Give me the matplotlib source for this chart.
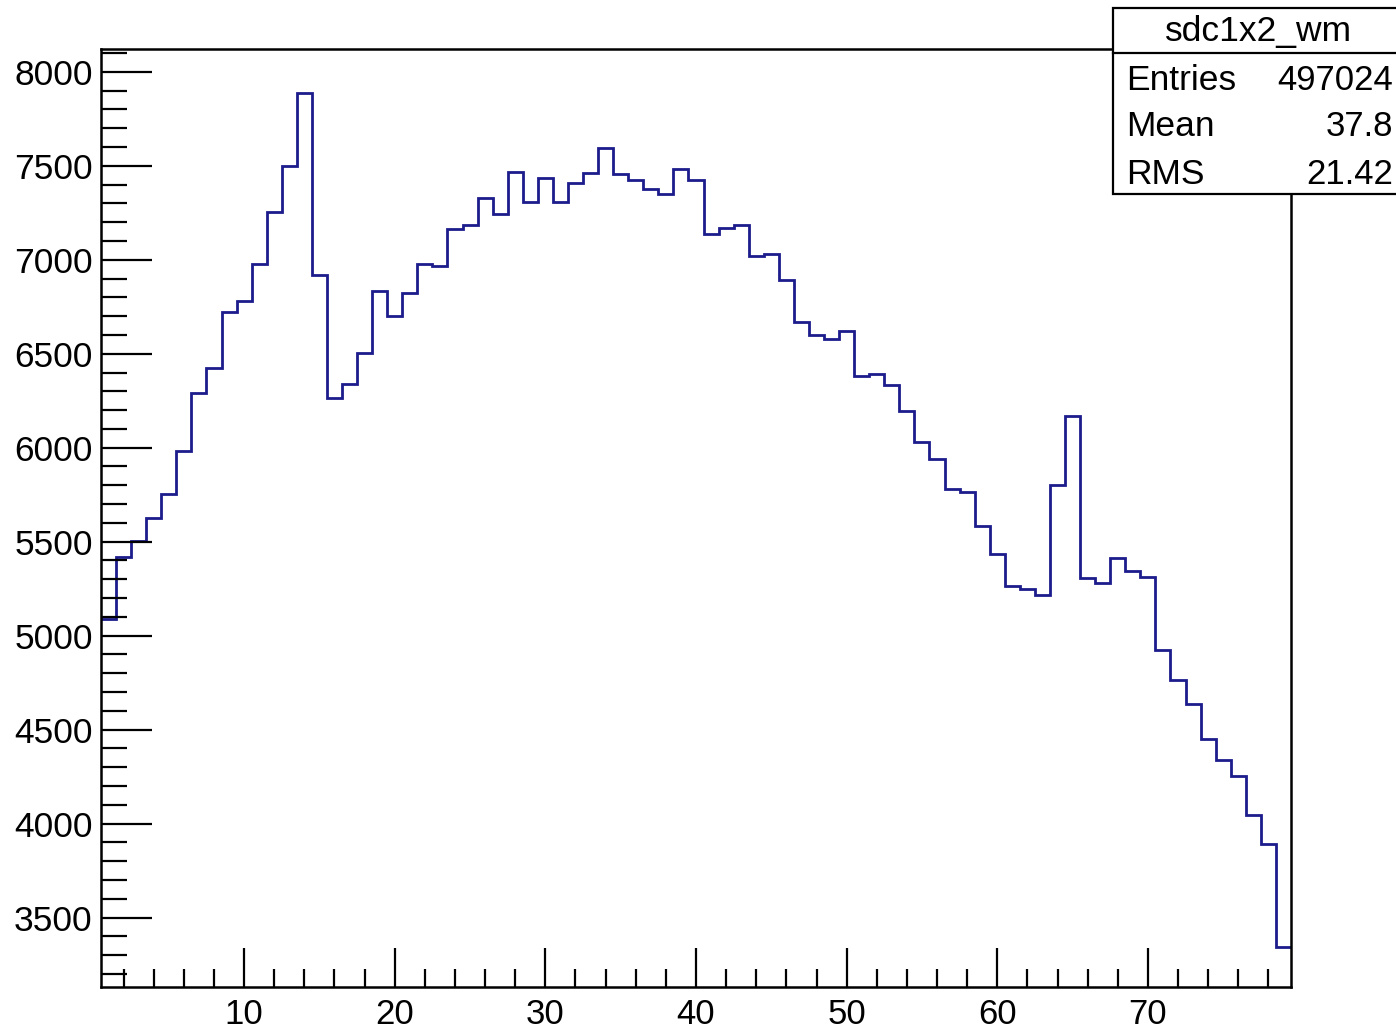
import numpy as np
import matplotlib
matplotlib.use('Agg')
import matplotlib.pyplot as plt
from matplotlib.ticker import MultipleLocator
from matplotlib.patches import Rectangle
from matplotlib.lines import Line2D

# histogram sdc1x2_wm, 79 bins of width 1 from 0.5 to 79.5
bin_edges = np.arange(0.5, 80.5, 1.0)
counts = [5090, 5420, 5506, 5626, 5754, 5983, 6289, 6425, 6720, 6779,
          6977, 7253, 7499, 7888, 6918, 6265, 6337, 6503, 6832, 6701,
          6821, 6977, 6969, 7166, 7187, 7328, 7242, 7468, 7306, 7434,
          7306, 7406, 7464, 7593, 7455, 7423, 7375, 7347, 7483, 7423,
          7138, 7168, 7186, 7021, 7030, 6892, 6668, 6599, 6579, 6620,
          6381, 6390, 6335, 6196, 6028, 5940, 5782, 5763, 5582, 5434,
          5265, 5250, 5219, 5800, 6171, 5308, 5278, 5413, 5345, 5310,
          4923, 4764, 4636, 4448, 4339, 4255, 4044, 3890, 3345]

hist_name = 'sdc1x2_wm'
stat_names = ['Entries', 'Mean', 'RMS']
stat_values = ['497024', '37.8', '21.42']

plt.rcParams['font.family'] = ['Liberation Sans', 'DejaVu Sans']

fig = plt.figure(figsize=(13.96, 10.31), dpi=100)
ax = fig.add_axes([101/1396, 1 - 987/1031, (1291 - 101)/1396, (987 - 49)/1031])

ax.stairs(counts, bin_edges, baseline=None, color='#1c1c8c', linewidth=2.0)

ax.set_xlim(0.5, 79.5)
ax.set_ylim(3131, 8121)

ax.xaxis.set_major_locator(MultipleLocator(10))
ax.xaxis.set_minor_locator(MultipleLocator(2))
ax.yaxis.set_major_locator(MultipleLocator(500))
ax.yaxis.set_minor_locator(MultipleLocator(100))

ax.tick_params(axis='both', which='both', direction='in', top=False, right=False,
               width=1.6, colors='black')
ax.tick_params(axis='x', which='major', length=28, pad=8, labelsize=25)
ax.tick_params(axis='x', which='minor', length=13)
ax.tick_params(axis='y', which='major', length=37, pad=6, labelsize=25.5)
ax.tick_params(axis='y', which='minor', length=19)
for sp in ax.spines.values():
    sp.set_linewidth(1.8)

# stats box (like ROOT's TPaveStats) in figure pixels
W, H = 1396, 1031
bx0, bx1, by_top, by_bot, by_head = 1113, 1400, 8, 194, 53
box = Rectangle((bx0/W, 1 - by_bot/H), (bx1 - bx0)/W, (by_bot - by_top)/H,
                transform=fig.transFigure, facecolor='white', edgecolor='black',
                linewidth=1.6, zorder=10)
fig.add_artist(box)
fig.add_artist(Line2D([bx0/W, 1.0], [1 - by_head/H, 1 - by_head/H],
                      transform=fig.transFigure, color='black', linewidth=1.6, zorder=11))

fig.text(1259/W, 1 - 32/H, hist_name, ha='center', va='center', fontsize=25.5, zorder=12)
for i, (name, val) in enumerate(zip(stat_names, stat_values)):
    yy = 1 - (80 + i*47)/H
    fig.text(1126/W, yy, name, ha='left', va='center', fontsize=25.5, zorder=12)
    fig.text(1393/W, yy, val, ha='right', va='center', fontsize=25, zorder=12)

fig.savefig('out.png', dpi=100)
